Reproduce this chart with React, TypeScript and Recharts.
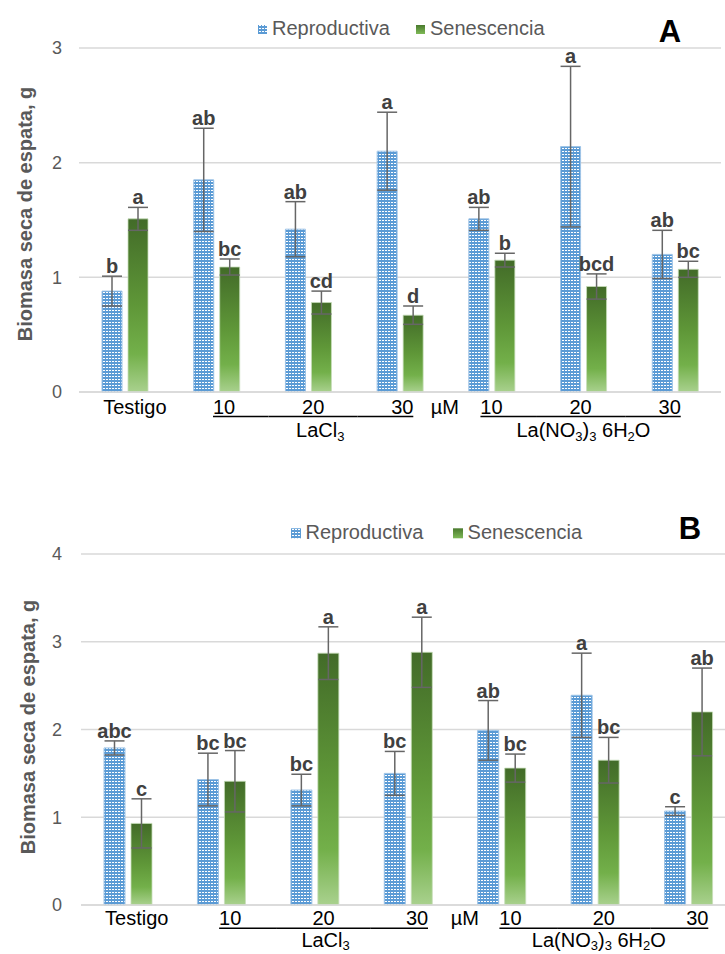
import React from "react";
import { BarChart, Bar, XAxis, YAxis, CartesianGrid, ErrorBar, LabelList } from "recharts";

const FONT = '"Liberation Sans", Arial, sans-serif';

const CATEGORIES = ["Testigo", "10", "20", "30", "10", "20", "30"];
const SERIES = ["Reproductiva", "Senescencia"];
const Y_TITLE = "Biomasa seca de espata, g";

// Panel A
const A_REPRO = [0.88, 1.85, 1.42, 2.1, 1.51, 2.14, 1.2];
const A_REPRO_ERR = [0.13, 0.45, 0.24, 0.34, 0.1, 0.7, 0.21];
const A_REPRO_LETTERS = ["b", "ab", "ab", "a", "ab", "a", "ab"];
const A_SENES = [1.51, 1.09, 0.78, 0.67, 1.15, 0.92, 1.07];
const A_SENES_ERR = [0.1, 0.07, 0.1, 0.08, 0.06, 0.11, 0.07];
const A_SENES_LETTERS = ["a", "bc", "cd", "d", "b", "bcd", "bc"];
const A_TICKS = [0, 1, 2, 3];

// Panel B
const B_REPRO = [1.79, 1.43, 1.31, 1.5, 1.99, 2.39, 1.07];
const B_REPRO_ERR = [0.08, 0.3, 0.18, 0.25, 0.34, 0.48, 0.05];
const B_REPRO_LETTERS = ["abc", "bc", "bc", "bc", "ab", "a", "c"];
const B_SENES = [0.93, 1.41, 2.87, 2.88, 1.56, 1.65, 2.2];
const B_SENES_ERR = [0.28, 0.35, 0.3, 0.4, 0.16, 0.26, 0.5];
const B_SENES_LETTERS = ["c", "bc", "a", "a", "bc", "bc", "ab"];
const B_TICKS = [0, 1, 2, 3, 4];

function buildRows(repro: number[], reproErr: number[], senes: number[], senesErr: number[]) {
  return CATEGORIES.map((c, i) => ({
    key: `c${i}`,
    label: c,
    repro: repro[i],
    reproErr: reproErr[i],
    senes: senes[i],
    senesErr: senesErr[i],
  }));
}

const ROWS_A = buildRows(A_REPRO, A_REPRO_ERR, A_SENES, A_SENES_ERR);
const ROWS_B = buildRows(B_REPRO, B_REPRO_ERR, B_SENES, B_SENES_ERR);

type TickCfg = {
  labelX: (x: number) => number;
  labelBand: number;
  base: number;
  line: number;
  group: number;
  sub: number;
  groupDx: [number, number];
  unitDx: number;
};

const CFG_A: TickCfg = {
  labelX: (x) => 135 + (x - 125) * 0.972,
  labelBand: 89.1,
  base: 21.5,
  line: 24.5,
  group: 45,
  sub: 4,
  groupDx: [12, 0],
  unitDx: -2,
};

const CFG_B: TickCfg = {
  labelX: (x) => x + 9,
  labelBand: 93.5,
  base: 20,
  line: 23.3,
  group: 41.5,
  sub: 3.5,
  groupDx: [11, 4],
  unitDx: 1,
};

function CategoryTick(props: any) {
  const { x, y, cfg } = props;
  const index: number = props.index ?? props.payload?.index ?? 0;
  const lx = cfg.labelX(x);
  const label = CATEGORIES[index];
  const s = cfg.sub;
  const parts: React.ReactNode[] = [];

  parts.push(
    <text key="t" x={lx} y={y + cfg.base} textAnchor="middle" fontSize={20} fontFamily={FONT} fill="#000">
      {label}
    </text>
  );

  if (index >= 1) {
    const first = index === 1 || index === 4;
    const last = index === 3 || index === 6;
    const x1 = first ? lx - 11 : lx - cfg.labelBand / 2;
    const x2 = last ? lx + 11 : lx + cfg.labelBand / 2;
    parts.push(<line key="u" x1={x1} x2={x2} y1={y + cfg.line} y2={y + cfg.line} stroke="#000" strokeWidth={1.6} />);
  }

  if (index === 3) {
    parts.push(
      <text key="um" x={lx + cfg.labelBand / 2 + cfg.unitDx} y={y + cfg.base} textAnchor="middle" fontSize={20} fontFamily={FONT} fill="#000">
        µM
      </text>
    );
  }

  if (index === 2) {
    parts.push(
      <text key="g1" x={x + cfg.groupDx[0]} y={y + cfg.group} textAnchor="middle" fontSize={20} fontFamily={FONT} fill="#000">
        LaCl
        <tspan fontSize={13} dy={s}>3</tspan>
      </text>
    );
  }

  if (index === 5) {
    parts.push(
      <text key="g2" x={x + cfg.groupDx[1]} y={y + cfg.group} textAnchor="middle" fontSize={20} fontFamily={FONT} fill="#000">
        La(NO
        <tspan fontSize={13} dy={s}>3</tspan>
        <tspan dy={-s}>)</tspan>
        <tspan fontSize={13} dy={s}>3</tspan>
        <tspan dy={-s}> 6H</tspan>
        <tspan fontSize={13} dy={s}>2</tspan>
        <tspan dy={-s}>O</tspan>
      </text>
    );
  }

  return <g>{parts}</g>;
}

function makeLetterLabel(letters: string[], errs: number[]) {
  return function LetterLabel(props: any) {
    const vb = props.viewBox || props;
    const index: number = props.index ?? 0;
    const value: number = Number(props.value);
    const bx = vb.x ?? props.x;
    const by = vb.y ?? props.y;
    const bw = vb.width ?? props.width;
    const bh = vb.height ?? props.height;
    if (!value || bx == null) return null;
    const ppu = bh / value;
    const errTop = by - errs[index] * ppu;
    return (
      <text x={bx + bw / 2} y={errTop - 3} textAnchor="middle" fontSize={20} fontWeight="bold" fontFamily={FONT} fill="#404040">
        {letters[index]}
      </text>
    );
  };
}

function Defs({ id }: { id: string }) {
  return (
    <defs>
      <pattern id={`dots${id}`} patternUnits="userSpaceOnUse" width={3} height={3}>
        <rect width={3} height={3} fill="#5b9bd5" />
        <rect x={1} y={1} width={2} height={1} fill="#ffffff" />
      </pattern>
      <linearGradient id={`green${id}`} x1="0" y1="0" x2="0" y2="1">
        <stop offset="0%" stopColor="#426b28" />
        <stop offset="50%" stopColor="#5f9738" />
        <stop offset="78%" stopColor="#73b04a" />
        <stop offset="100%" stopColor="#a9d18e" />
      </linearGradient>
    </defs>
  );
}

type PanelProps = {
  id: string;
  rows: any[];
  ticks: number[];
  width: number;
  height: number;
  marginTop: number;
  marginRight: number;
  yAxisWidth: number;
  xAxisHeight: number;
  tickMargin: number;
  barSize: number;
  cfg: TickCfg;
  reproLetters: string[];
  reproErr: number[];
  senesLetters: string[];
  senesErr: number[];
};

function Panel(p: PanelProps) {
  return (
    <BarChart
      width={p.width}
      height={p.height}
      data={p.rows}
      margin={{ top: p.marginTop, right: p.marginRight, bottom: 0, left: 0 }}
      barGap={6}
      barSize={p.barSize}
    >
      <Defs id={p.id} />
      <CartesianGrid vertical={false} stroke="#d9d9d9" strokeWidth={1.5} />
      <XAxis
        dataKey="key"
        height={p.xAxisHeight}
        axisLine={{ stroke: "#d9d9d9", strokeWidth: 1.5 }}
        tickLine={false}
        tickSize={0}
        tickMargin={0}
        interval={0}
        tick={(t: any) => <CategoryTick {...t} cfg={p.cfg} />}
      />
      <YAxis
        width={p.yAxisWidth}
        domain={[0, p.ticks[p.ticks.length - 1]]}
        ticks={p.ticks}
        axisLine={false}
        tickLine={false}
        tickSize={0}
        tickMargin={p.tickMargin}
        tick={{ fontSize: 18, fill: "#595959", fontFamily: FONT }}
      />
      <Bar dataKey="repro" name={SERIES[0]} fill={`url(#dots${p.id})`} stroke="#9dc3e6" strokeWidth={1} isAnimationActive={false}>
        <ErrorBar dataKey="reproErr" width={10} strokeWidth={1.5} stroke="#666666" direction="y" />
        <LabelList dataKey="repro" content={makeLetterLabel(p.reproLetters, p.reproErr)} />
      </Bar>
      <Bar dataKey="senes" name={SERIES[1]} fill={`url(#green${p.id})`} stroke="#c7ddb9" strokeWidth={0.8} isAnimationActive={false}>
        <ErrorBar dataKey="senesErr" width={10} strokeWidth={1.5} stroke="#666666" direction="y" />
        <LabelList dataKey="senes" content={makeLetterLabel(p.senesLetters, p.senesErr)} />
      </Bar>
    </BarChart>
  );
}

type OverlayProps = {
  id: string;
  height: number;
  titleX: number;
  titleY: number;
  legendBase: number;
  sq: number;
  sq1: number;
  tx1: number;
  sq2: number;
  tx2: number;
  letter: string;
  letterX: number;
  letterBase: number;
};

function Overlay(o: OverlayProps) {
  return (
    <svg width={725} height={o.height} style={{ position: "absolute", left: 0, top: 0, pointerEvents: "none" }}>
      <defs>
        <pattern id={`ldots${o.id}`} patternUnits="userSpaceOnUse" width={3} height={3}>
          <rect width={3} height={3} fill="#5b9bd5" />
          <rect x={1} y={1} width={2} height={1} fill="#ffffff" />
        </pattern>
        <linearGradient id={`lgreen${o.id}`} x1="0" y1="0" x2="0" y2="1">
          <stop offset="0%" stopColor="#4a7a2e" />
          <stop offset="100%" stopColor="#7fba57" />
        </linearGradient>
      </defs>
      <text
        transform={`translate(${o.titleX},${o.titleY}) rotate(-90)`}
        textAnchor="middle"
        fontSize={20}
        fontWeight="bold"
        fontFamily={FONT}
        fill="#595959"
      >
        {Y_TITLE}
      </text>
      <rect x={o.sq1} y={o.legendBase - o.sq - 1} width={o.sq} height={o.sq} fill={`url(#ldots${o.id})`} />
      <text x={o.tx1} y={o.legendBase} fontSize={20} fontFamily={FONT} fill="#595959">
        {SERIES[0]}
      </text>
      <rect x={o.sq2} y={o.legendBase - o.sq - 1} width={o.sq} height={o.sq} fill={`url(#lgreen${o.id})`} />
      <text x={o.tx2} y={o.legendBase} fontSize={20} fontFamily={FONT} fill="#595959">
        {SERIES[1]}
      </text>
      <text x={o.letterX} y={o.letterBase} textAnchor="middle" fontSize={31} fontWeight="bold" fontFamily={FONT} fill="#000">
        {o.letter}
      </text>
    </svg>
  );
}

export default function App() {
  return (
    <div
      style={{
        position: "fixed",
        left: 0,
        top: 0,
        width: 725,
        height: 954,
        overflow: "hidden",
        background: "#fff",
        fontFamily: FONT,
      }}
    >
      <div style={{ position: "absolute", left: 0, top: 0, width: 725, height: 470 }}>
        <Panel
          id="A"
          rows={ROWS_A}
          ticks={A_TICKS}
          width={725}
          height={470}
          marginTop={48}
          marginRight={4}
          yAxisWidth={79}
          xAxisHeight={78}
          tickMargin={17}
          barSize={20}
          cfg={CFG_A}
          reproLetters={A_REPRO_LETTERS}
          reproErr={A_REPRO_ERR}
          senesLetters={A_SENES_LETTERS}
          senesErr={A_SENES_ERR}
        />
        <Overlay
          id="A"
          height={470}
          titleX={31.5}
          titleY={214}
          legendBase={35}
          sq={9}
          sq1={258}
          tx1={272}
          sq2={416}
          tx2={430}
          letter="A"
          letterX={670}
          letterBase={41.7}
        />
      </div>
      <div style={{ position: "absolute", left: 0, top: 480, width: 740, height: 474 }}>
        <Panel
          id="B"
          rows={ROWS_B}
          ticks={B_TICKS}
          width={740}
          height={474}
          marginTop={74}
          marginRight={5}
          yAxisWidth={81}
          xAxisHeight={49}
          tickMargin={19}
          barSize={21}
          cfg={CFG_B}
          reproLetters={B_REPRO_LETTERS}
          reproErr={B_REPRO_ERR}
          senesLetters={B_SENES_LETTERS}
          senesErr={B_SENES_ERR}
        />
        <Overlay
          id="B"
          height={474}
          titleX={35}
          titleY={247}
          legendBase={59.3}
          sq={10}
          sq1={291}
          tx1={305.5}
          sq2={453}
          tx2={467.6}
          letter="B"
          letterX={690}
          letterBase={59.3}
        />
      </div>
    </div>
  );
}
